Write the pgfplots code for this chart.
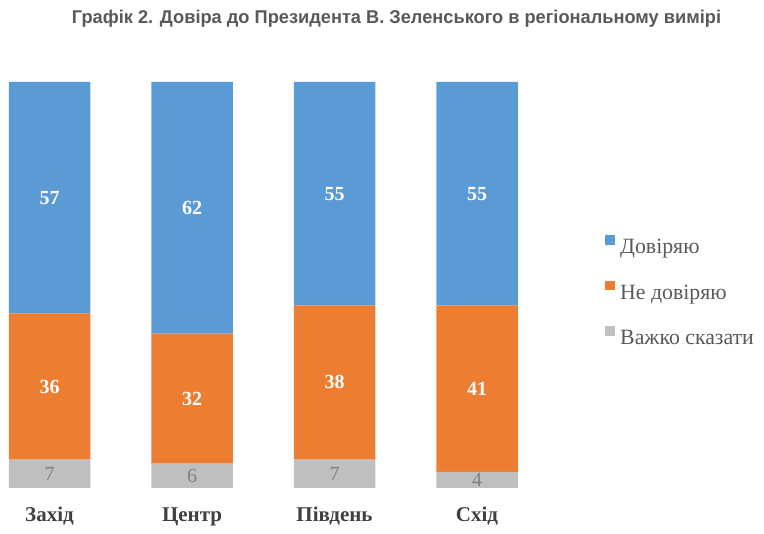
\documentclass[border=0pt]{standalone}
\usepackage{fontspec}
\setmainfont{Liberation Serif}
\newfontfamily\titlefont[FakeStretch=0.985]{Liberation Sans}
\usepackage{pgfplots}
\pgfplotsset{compat=1.18}
\definecolor{cblue}{HTML}{5B9BD5}
\definecolor{corange}{HTML}{ED7D31}
\definecolor{cgray}{HTML}{BFBFBF}
\definecolor{cgraytxt}{HTML}{808080}
\definecolor{ctxt}{HTML}{404040}
\definecolor{ctitle}{HTML}{595959}
\begin{document}
\begin{tikzpicture}
\begin{axis}[
  scale only axis,
  width=764pt, height=406pt,
  xmin=-0.3474, xmax=5.014,
  ymin=0, ymax=100,
  clip=false,
  ybar stacked,
  bar width=81.5pt,
  axis line style={draw=none},
  tick style={draw=none},
  ytick=\empty,
  xtick={0,1,2,3},
  xticklabels={Захід,Центр,Південь,Схід},
  xticklabel style={anchor=base, yshift=-34pt, font=\fontsize{21}{25}\selectfont\bfseries, text=ctxt},
  point meta=explicit symbolic,
  nodes near coords,
  every node near coord/.append style={anchor=center, font=\fontsize{20}{24}\selectfont\bfseries, text=white},
  legend image code/.code={\fill[#1] (0pt,4pt) rectangle (10pt,13.5pt);},
  reverse legend,
  legend style={at={(0.7919,0.6232)}, anchor=north west, draw=none, fill=none, inner sep=0pt,
    row sep=23pt, font=\fontsize{21.8}{25}\selectfont, text=ctitle,
    nodes={inner sep=0pt, text height=14pt, text depth=4pt},
    /tikz/every odd column/.append style={column sep=5pt}},
  legend cell align=left,
]
\addplot[fill=cgray, draw=none, every node near coord/.append style={font=\fontsize{20}{24}\selectfont, text=cgraytxt}] coordinates {(0,7) [7] (1,6) [6] (2,7) [7] (3,4) [4]};
\addlegendentry{Важко сказати}
\addplot[fill=corange, draw=none] coordinates {(0,36) [36] (1,32) [32] (2,38) [38] (3,41) [41]};
\addlegendentry{Не довіряю}
\addplot[fill=cblue, draw=none] coordinates {(0,57) [57] (1,62) [62] (2,55) [55] (3,55) [55]};
\addlegendentry{Довіряю}
\end{axis}
\node[anchor=base, font=\titlefont\fontsize{18.5}{22}\selectfont\bfseries, text=ctitle] at (396.5pt,464pt) {Графік 2. Довіра до Президента В. Зеленського в регіональному вимірі};
\pgfresetboundingbox
\path[use as bounding box] (0pt,-46pt) rectangle (764pt,488pt);
\end{tikzpicture}
\end{document}
